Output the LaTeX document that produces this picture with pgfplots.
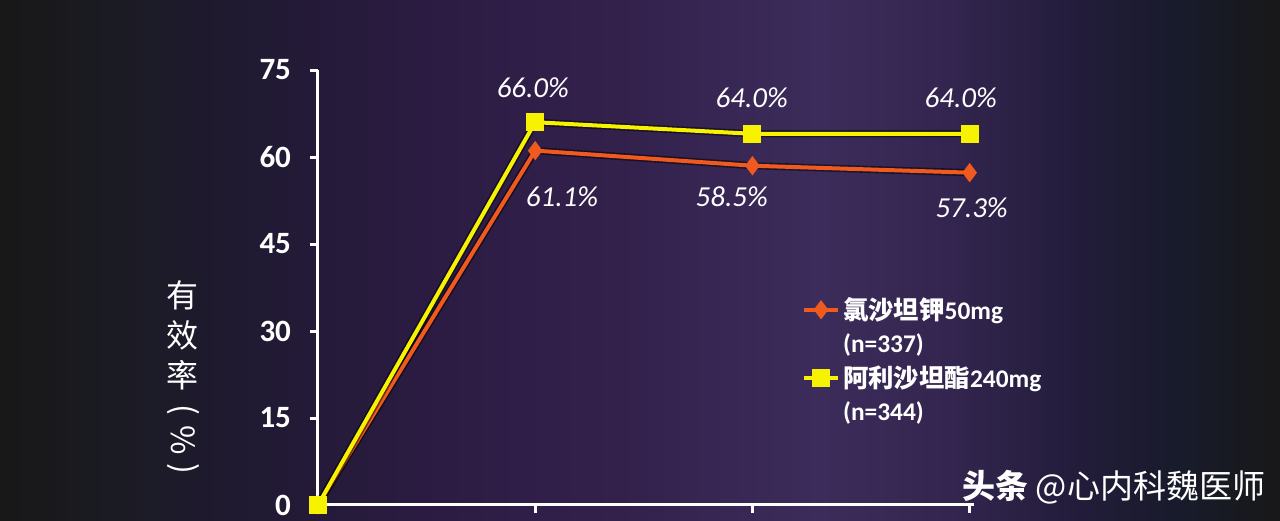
\documentclass[border=0pt]{standalone}
\usepackage{pgfplots}
\pgfplotsset{compat=1.18}
\usepackage{fontspec}
\setmainfont{Carlito}
\newfontfamily\cjk{Noto Sans CJK SC}
\definecolor{bg0}{HTML}{181818}
\definecolor{bg1}{HTML}{1B1B24}
\definecolor{bg2}{HTML}{201A32}
\definecolor{bg3}{HTML}{2B1B42}
\definecolor{bg4}{HTML}{33214C}
\definecolor{bg5}{HTML}{3C2C5B}
\definecolor{bg6}{HTML}{33254F}
\definecolor{bg7}{HTML}{221C3A}
\definecolor{bg8}{HTML}{181B2B}
\definecolor{yel}{HTML}{F7F200}
\definecolor{org}{HTML}{F05A1E}
\pgfdeclarehorizontalshading{bgshade}{100bp}{color(0bp)=(bg0); color(25bp)=(bg0); color(29.7bp)=(bg1); color(34.8bp)=(bg2); color(41.4bp)=(bg3); color(49.2bp)=(bg4); color(57bp)=(bg5); color(62.1bp)=(bg6); color(67.2bp)=(bg7); color(71.1bp)=(bg8); color(75bp)=(bg0); color(100bp)=(bg0)}
\begin{document}
\begin{tikzpicture}
\useasboundingbox (-159pt,-7.5pt) rectangle (481pt,252.5pt);
\fill[shading=bgshade] (-159pt,-7.5pt) rectangle (481pt,252.5pt);
\begin{axis}[
  scale only axis,
  width=328pt, height=217.5pt,
  xmin=0, xmax=3.02, ymin=0, ymax=75,
  axis x line=bottom, axis y line=left,
  axis line style={-, white, line width=1.5pt},
  xtick={1,2,3}, xticklabels={},
  ytick={0,15,30,45,60,75},
  tick align=outside,
  major tick length=4pt,
  tick style={white, line width=1.5pt},
  yticklabel style={text=white, font=\bfseries\fontsize{15.5}{15.5}\selectfont, xshift=-6pt},
  /pgf/number format/assume math mode=true,
  clip=false,
  legend cell align=left,
  legend style={at={(rel axis cs:0.728,0.497)}, anchor=north west, draw=none, fill=none,
    text=white, font=\bfseries\fontsize{12.7}{14}\selectfont, row sep=1.5pt,
    /tikz/every even column/.style={column sep=0pt},
    nodes={inner xsep=1.5pt}},
]
\addplot[forget plot, draw=black, opacity=0.5, line width=3.6pt, no marks] coordinates {(0,0) (1,61.1) (2,58.5) (3,57.3)};
\addplot[org, line width=2pt, mark=diamond*, mark size=3.2pt, mark options={fill=org, draw=org}] coordinates {(0,0) (1,61.1) (2,58.5) (3,57.3)};
\addlegendentry{{\cjk 氯沙坦钾}50mg}
\addlegendimage{empty legend}
\addlegendentry{(n=337)}
\addplot[forget plot, draw=black, opacity=0.5, line width=3.6pt, no marks] coordinates {(0,0) (1,66.0) (2,64.0) (3,64.0)};
\addplot[yel, line width=2pt, mark=square*, mark size=3.5pt, mark options={fill=yel, draw=yel}] coordinates {(0,0) (1,66.0) (2,64.0) (3,64.0)};
\addlegendentry{{\cjk 阿利沙坦酯}240mg}
\addlegendimage{empty legend}
\addlegendentry{(n=344)}
\begin{scope}[every node/.style={text=white, font=\itshape\fontsize{14.5}{15}\selectfont}]
\node at (axis cs:0.989,71.9) {66.0\%};
\node at (axis cs:1.997,70.2) {64.0\%};
\node at (axis cs:2.959,70.2) {64.0\%};
\node at (axis cs:1.123,53.1) {61.1\%};
\node at (axis cs:1.905,53.1) {58.5\%};
\node at (axis cs:3.009,51.2) {57.3\%};
\end{scope}
\end{axis}
\begin{scope}[every node/.style={text=white, font=\cjk\fontsize{16}{16}\selectfont, inner sep=0pt}]
\node at (-67.5pt,105pt) {有};
\node at (-67.5pt,85pt) {效};
\node at (-67.5pt,65pt) {率};
\node at (-67.5pt,47.5pt) {\rotatebox{-90}{(}};
\node at (-67.5pt,32.5pt) {\rotatebox{-90}{\%}};
\node at (-67.5pt,18pt) {\rotatebox{-90}{)}};
\end{scope}
\node[anchor=west, text=white, inner sep=0pt] at (322pt,9pt) {\cjk\fontsize{16.5}{16.5}\selectfont\bfseries 头条\mdseries\ @心内科魏医师};
\end{tikzpicture}
\end{document}
